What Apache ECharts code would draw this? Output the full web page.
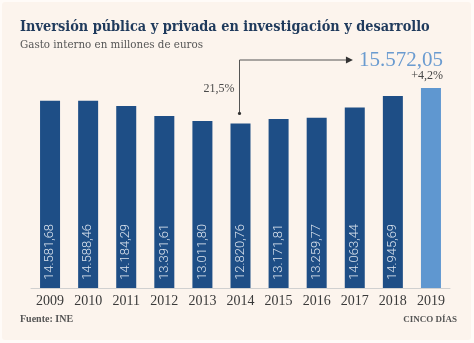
<!DOCTYPE html>
<html><head><meta charset="utf-8">
<script src="https://cdn.jsdelivr.net/npm/echarts@6/dist/echarts.min.js"></script>
<style>html,body{margin:0;padding:0;background:#fffbf8}#c{width:474px;height:343px}</style>
</head><body><div id="c"></div>
<script>
const years = ['2009','2010','2011','2012','2013','2014','2015','2016','2017','2018','2019'];
const values = [14581.68,14588.46,14184.29,13391.61,13011.80,12820.76,13171.81,13259.77,14063.44,14945.69,15572.05];
const labels = ['14.581,68','14.588,46','14.184,29','13.391,61','13.011,80','12.820,76','13.171,81','13.259,77','14.063,44','14.945,69',''];
const titleText = 'Inversión pública y privada en investigación y desarrollo';
const subtitleText = 'Gasto interno en millones de euros';
const highlightText = '15.572,05';
const changeText = '+4,2%';
const growthText = '21,5%';
const dark = '#1e4e86', light = '#5f97d0';
const serif = '"Liberation Serif", serif';
// fit a font size so text spans a target width
const cv = document.createElement('canvas').getContext('2d');
function fit(text, weight, family, target) {
  cv.font = weight + ' 100px ' + family;
  return 100 * target / cv.measureText(text).width;
}
const titleFam = '"DejaVu Serif Condensed", "DejaVu Serif", serif';
const titleSize = fit(titleText, 'bold', titleFam, 410);
const subFam = '"DejaVu Serif Condensed", "DejaVu Serif", serif';
const subSize = fit(subtitleText, 'normal', subFam, 183);

const chart = echarts.init(document.getElementById('c'));
chart.setOption({
  backgroundColor: 'transparent',
  animation: false,
  grid: {left: 31, right: 24, top: 80, bottom: 55},
  xAxis: {type: 'category', data: years,
    axisLine: {lineStyle: {color: '#d0d0d0'}}, axisTick: {show: false},
    axisLabel: {color: '#3a3a3a', fontFamily: serif, fontSize: 14, margin: 6}},
  yAxis: {type: 'value', min: 0, max: 16200, show: false, splitLine: {show: false}},
  series: [{
    type: 'bar', barWidth: 20,
    data: values.map((v, i) => ({value: v, itemStyle: {color: i === values.length - 1 ? light : dark}})),
    label: {show: true, position: 'insideBottom', rotate: 90, align: 'left', verticalAlign: 'middle', distance: 8,
      formatter: p => labels[p.dataIndex], color: '#dce4ee', fontSize: 13, fontFamily: 'Roboto, sans-serif', fontWeight: 300}
  }]
});
const p14 = chart.convertToPixel({xAxisIndex: 0, yAxisIndex: 0}, ['2014', values[5]]);
const p19 = chart.convertToPixel({xAxisIndex: 0, yAxisIndex: 0}, ['2019', values[10]]);
const topY = 60, dotY = p14[1] - 10, arrowEnd = p19[0] - 78;
chart.setOption({graphic: [
  {type: 'rect', z: -10, shape: {x: 2, y: 2, width: 469, height: 338, r: 3}, style: {fill: '#fcf4ed'}},
  {type: 'text', x: 20, y: 27, style: {text: titleText, font: 'bold ' + titleSize.toFixed(2) + 'px ' + titleFam, fill: '#1f3a5c', verticalAlign: 'middle'}},
  {type: 'text', x: 20, y: 45, style: {text: subtitleText, font: subSize.toFixed(2) + 'px ' + subFam, fill: '#555', verticalAlign: 'middle'}},
  {type: 'text', x: 20, y: 319, style: {text: 'Fuente: INE', font: 'bold 10px "Liberation Serif", serif', fill: '#555', verticalAlign: 'middle'}},
  {type: 'text', x: 457, y: 320, style: {text: 'CINCO DÍAS', font: 'bold 9px "Liberation Serif", serif', fill: '#555', align: 'right', verticalAlign: 'middle'}},
  {type: 'polyline', shape: {points: [[p14[0] - 1, dotY], [p14[0] - 1, topY], [arrowEnd - 6, topY]]}, style: {stroke: '#555', lineWidth: 1, fill: null}},
  {type: 'polygon', shape: {points: [[arrowEnd, topY], [arrowEnd - 7, topY - 3.5], [arrowEnd - 7, topY + 3.5]]}, style: {fill: '#333'}},
  {type: 'circle', shape: {cx: p14[0] - 1, cy: dotY, r: 1.6}, style: {fill: '#333'}},
  {type: 'text', x: p14[0] - 6, y: p14[1] - 35, style: {text: growthText, font: '12px "Liberation Serif", serif', fill: '#4a4a4a', align: 'right', verticalAlign: 'middle'}},
  {type: 'text', x: p19[0] + 12, y: topY, style: {text: highlightText, font: '21px "Liberation Serif", serif', fill: '#6a9bd0', align: 'right', verticalAlign: 'middle'}},
  {type: 'text', x: p19[0] + 12, y: topY + 16, style: {text: changeText, font: '12px "Liberation Serif", serif', fill: '#444', align: 'right', verticalAlign: 'middle'}}
]});
</script></body></html>
